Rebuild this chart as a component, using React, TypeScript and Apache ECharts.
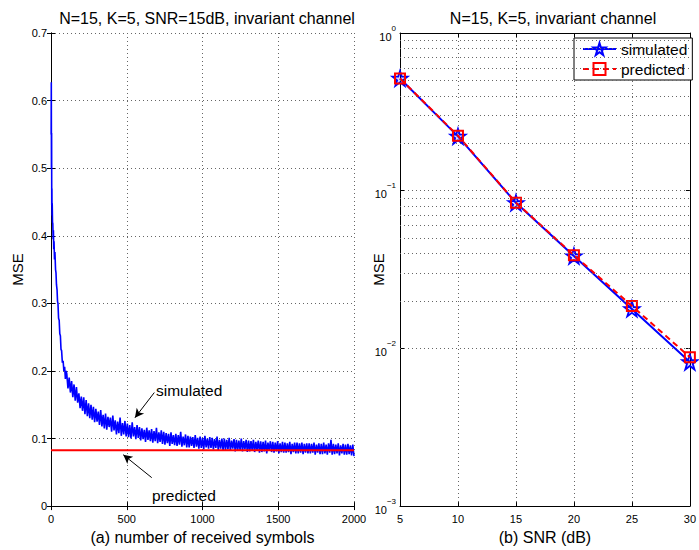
import React, { useEffect, useRef } from "react";
import * as echarts from "echarts";

const FONT = '"Liberation Sans", Arial, Helvetica, sans-serif';

const titleA = "N=15, K=5, SNR=15dB, invariant channel";
const titleB = "N=15, K=5, invariant channel";
const xNameA = "(a) number of received symbols";
const xNameB = "(b) SNR (dB)";

// left panel: MSE vs number of received symbols
const earlyX = [1, 2, 3, 4, 5, 6, 7, 8, 10, 12, 14, 16, 18, 20, 23, 26, 30, 33, 36, 40, 43, 46, 50, 54, 58, 62, 66, 70, 75, 80, 85, 90, 95, 100];
const earlyY = [0.55, 0.627, 0.5, 0.552, 0.445, 0.47, 0.43, 0.448, 0.42, 0.418, 0.395, 0.408, 0.38, 0.392, 0.365, 0.376, 0.35, 0.345, 0.328, 0.32, 0.303, 0.3, 0.278, 0.275, 0.255, 0.252, 0.232, 0.23, 0.212, 0.215, 0.2, 0.206, 0.188, 0.2];
const lateStart = 104;
const lateStep = 8;
const lateY = [
  0.196, 0.174, 0.19, 0.168, 0.185, 0.161, 0.18, 0.156, 0.176, 0.153,
  0.167, 0.145, 0.162, 0.141, 0.161, 0.136, 0.157, 0.133, 0.152, 0.13,
  0.15, 0.128, 0.147, 0.124, 0.144, 0.125, 0.14, 0.12, 0.142, 0.118,
  0.135, 0.115, 0.137, 0.113, 0.132, 0.117, 0.131, 0.11, 0.134, 0.112,
  0.127, 0.106, 0.125, 0.108, 0.131, 0.104, 0.123, 0.106, 0.126, 0.103,
  0.122, 0.102, 0.12, 0.1, 0.124, 0.103, 0.117, 0.099, 0.12, 0.101,
  0.117, 0.097, 0.115, 0.099, 0.113, 0.095, 0.116, 0.098, 0.112, 0.096,
  0.114, 0.094, 0.111, 0.096, 0.116, 0.093, 0.109, 0.095, 0.112, 0.092,
  0.11, 0.091, 0.108, 0.093, 0.107, 0.089, 0.109, 0.092, 0.105, 0.09,
  0.107, 0.089, 0.105, 0.091, 0.11, 0.088, 0.103, 0.09, 0.106, 0.087,
  0.104, 0.087, 0.103, 0.089, 0.102, 0.086, 0.105, 0.088, 0.101, 0.085,
  0.103, 0.086, 0.101, 0.084, 0.104, 0.087, 0.1, 0.085, 0.102, 0.086,
  0.101, 0.084, 0.099, 0.086, 0.103, 0.083, 0.098, 0.085, 0.1, 0.082,
  0.1, 0.083, 0.098, 0.084, 0.101, 0.082, 0.097, 0.085, 0.099, 0.081,
  0.098, 0.082, 0.097, 0.083, 0.1, 0.081, 0.096, 0.084, 0.098, 0.08,
  0.097, 0.081, 0.096, 0.082, 0.098, 0.08, 0.095, 0.083, 0.097, 0.079,
  0.096, 0.08, 0.095, 0.081, 0.097, 0.078, 0.094, 0.082, 0.096, 0.08,
  0.095, 0.079, 0.094, 0.081, 0.096, 0.078, 0.093, 0.08, 0.095, 0.079,
  0.094, 0.079, 0.093, 0.08, 0.095, 0.077, 0.092, 0.08, 0.094, 0.078,
  0.094, 0.078, 0.093, 0.079, 0.094, 0.077, 0.092, 0.079, 0.093, 0.078,
  0.093, 0.078, 0.092, 0.079, 0.094, 0.076, 0.091, 0.079, 0.093, 0.077,
  0.092, 0.077, 0.094, 0.078, 0.091, 0.076, 0.093, 0.079, 0.098, 0.076,
  0.092, 0.077, 0.091, 0.078, 0.093, 0.075, 0.09, 0.078, 0.092, 0.076,
  0.091, 0.076, 0.092, 0.077, 0.09, 0.075, 0.091, 0.074,
];
const predictedLevel = 0.0825;
const symbolsRange = [0, 2000];

// annotation arrows (data coordinates, left panel)
const simArrow = [[682, 0.168], [554, 0.1307]];
const predArrow = [[665, 0.0421], [477, 0.076]];

// right panel: MSE vs SNR
const snr = [5, 10, 15, 20, 25, 30];
const simMse = [0.515, 0.221, 0.0838, 0.0385, 0.0178, 0.0082];
const predMse = [0.515, 0.223, 0.084, 0.039, 0.0186, 0.0088];
const logMinor = [
  0.002, 0.003, 0.004, 0.005, 0.006, 0.007, 0.008, 0.009,
  0.02, 0.03, 0.04, 0.05, 0.06, 0.07, 0.08, 0.09,
  0.2, 0.3, 0.4, 0.5, 0.6, 0.7, 0.8, 0.9,
];

const STAR =
  "path://M100 0 L122.45 69.1 L195.11 69.1 L136.33 111.8 L158.78 180.9 L100 138.2 L41.22 180.9 L63.67 111.8 L4.89 69.1 L77.55 69.1 Z";

export default function App() {
  const ref = useRef<HTMLDivElement>(null);
  useEffect(() => {
    if (!ref.current) return;
    const chart = echarts.init(ref.current, undefined, { renderer: "svg" });

    const simData: number[][] = [];
    earlyX.forEach((x, i) => simData.push([x, earlyY[i]]));
    lateY.forEach((y, i) => simData.push([lateStart + lateStep * i, y]));

    const axisLine = { show: true, lineStyle: { color: "#000", width: 1 } };
    const tickIn = { show: true, inside: true, length: 4, lineStyle: { color: "#000" } };
    const grid = { show: true, lineStyle: { color: "#666", type: [1, 3] as any, width: 1 } };
    const lbl = { color: "#000", fontSize: 11, fontFamily: FONT };
    const nameStyle = { fontSize: 16, color: "#000", fontFamily: FONT };

    const option: any = {
      animation: false,
      backgroundColor: "#fff",
      title: [
        { text: titleA, left: 202, top: 5, textAlign: "center", textStyle: { fontSize: 16, fontWeight: "normal", color: "#000", fontFamily: FONT } },
        { text: titleB, left: 548, top: 5, textAlign: "center", textStyle: { fontSize: 16, fontWeight: "normal", color: "#000", fontFamily: FONT } },
      ],
      grid: [
        { left: 51, top: 33, width: 303, height: 482 },
        { left: 400, top: 33, width: 297, height: 482 },
      ],
      legend: {
        data: ["simulated", "predicted"],
        orient: "vertical",
        left: 574,
        top: 38,
        padding: [3, 5, 3, 8],
        itemGap: 4,
        itemWidth: 33,
        itemHeight: 15,
        borderColor: "#000",
        borderWidth: 1,
        backgroundColor: "#fff",
        textStyle: { fontSize: 15.5, color: "#000", fontFamily: FONT },
      },
      xAxis: [
        {
          gridIndex: 0, type: "value", min: symbolsRange[0], max: symbolsRange[1], interval: 500,
          axisLine, axisTick: tickIn, splitLine: grid,
          axisLabel: { ...lbl, margin: 7, formatter: (v: number) => String(v) },
          name: xNameA, nameLocation: "middle", nameGap: 18, nameTextStyle: nameStyle,
        },
        {
          gridIndex: 0, type: "value", position: "top", min: symbolsRange[0], max: symbolsRange[1], interval: 500,
          axisLine, axisTick: tickIn, splitLine: { show: false }, axisLabel: { show: false },
        },
        {
          gridIndex: 1, type: "value", min: 5, max: 30, interval: 5,
          axisLine, axisTick: tickIn, splitLine: grid,
          axisLabel: { ...lbl, margin: 7, formatter: (v: number) => String(v) },
          name: xNameB, nameLocation: "middle", nameGap: 18, nameTextStyle: nameStyle,
        },
        {
          gridIndex: 1, type: "value", position: "top", min: 5, max: 30, interval: 5,
          axisLine, axisTick: tickIn, splitLine: { show: false }, axisLabel: { show: false },
        },
      ],
      yAxis: [
        {
          gridIndex: 0, type: "value", min: 0, max: 0.7, interval: 0.1,
          axisLine, axisTick: tickIn, splitLine: grid,
          axisLabel: { ...lbl, margin: 4, formatter: (v: number) => (v === 0 ? "0" : v.toFixed(1)) },
          name: "MSE", nameLocation: "middle", nameGap: 26,
          nameTextStyle: { ...nameStyle, fontSize: 15 },
        },
        {
          gridIndex: 0, type: "value", position: "right", min: 0, max: 0.7, interval: 0.1,
          axisLine, axisTick: tickIn, splitLine: { show: false }, axisLabel: { show: false },
        },
        {
          gridIndex: 1, type: "log", logBase: 10, min: 0.001, max: 1,
          axisLine, axisTick: tickIn, splitLine: grid,
          axisLabel: {
            ...lbl, margin: 4,
            formatter: (v: number) => {
              const e = Math.round(Math.log10(v));
              return "{b|10}{s|" + (e < 0 ? "\u2212" + -e : String(e)) + "}";
            },
            rich: {
              b: { fontSize: 11, color: "#000", fontFamily: FONT, verticalAlign: "bottom", lineHeight: 18 },
              s: { fontSize: 8, color: "#000", fontFamily: FONT, verticalAlign: "top", lineHeight: 18 },
            },
          },
          name: "MSE", nameLocation: "middle", nameGap: 14, nameMoveOverlap: false,
          nameTextStyle: { ...nameStyle, fontSize: 15 },
        },
        {
          gridIndex: 1, type: "log", logBase: 10, min: 0.001, max: 1, position: "right",
          axisLine, axisTick: tickIn, splitLine: { show: false }, axisLabel: { show: false },
        },
      ],
      series: [
        {
          name: "simulated-left", type: "line", xAxisIndex: 0, yAxisIndex: 0,
          data: simData, showSymbol: false, symbol: "none",
          lineStyle: { color: "#0000ff", width: 1.6 }, itemStyle: { color: "#0000ff" },
          z: 3,
          markLine: {
            silent: true, symbol: ["none", "arrow"], symbolSize: [7, 9], animation: false,
            label: { show: false },
            lineStyle: { color: "#000", width: 1, type: "solid" },
            data: [
              [{ coord: simArrow[0] }, { coord: simArrow[1] }],
              [{ coord: predArrow[0] }, { coord: predArrow[1] }],
            ],
          },
        },
        {
          name: "predicted-left", type: "line", xAxisIndex: 0, yAxisIndex: 0,
          data: symbolsRange.map((x) => [x, predictedLevel]), showSymbol: false, symbol: "none",
          lineStyle: { color: "#ff0000", width: 2 }, z: 4,
        },
        {
          name: "simulated", type: "line", xAxisIndex: 2, yAxisIndex: 2,
          data: snr.map((x, i) => [x, simMse[i]]),
          symbol: STAR, symbolSize: 15,
          lineStyle: { color: "#0000ff", width: 2 },
          itemStyle: { color: "rgba(0,0,255,0.15)", borderColor: "#0000ff", borderWidth: 1.8 },
          z: 3,
          markLine: {
            silent: true, symbol: "none", animation: false,
            label: { show: false },
            lineStyle: { color: "#666", width: 1, type: [1, 3] },
            data: logMinor.map((v) => ({ yAxis: v })),
          },
        },
        {
          name: "predicted", type: "line", xAxisIndex: 2, yAxisIndex: 2,
          data: snr.map((x, i) => [x, predMse[i]]),
          symbol: "rect", symbolSize: 10,
          lineStyle: { color: "#ff0000", width: 2, type: [6, 4] },
          itemStyle: { color: "rgba(255,255,255,0)", borderColor: "#ff0000", borderWidth: 2 },
          z: 4,
        },
      ],
      graphic: [
        { type: "text", left: 156, top: 382, style: { text: "simulated", fontSize: 15.5, fill: "#000", fontFamily: FONT } },
        { type: "text", left: 152, top: 487, style: { text: "predicted", fontSize: 15.5, fill: "#000", fontFamily: FONT } },
      ],
    };
    chart.setOption(option);
    return () => chart.dispose();
  }, []);
  return <div ref={ref} style={{ position: "fixed", left: 0, top: 0, width: 699, height: 550 }} />;
}
